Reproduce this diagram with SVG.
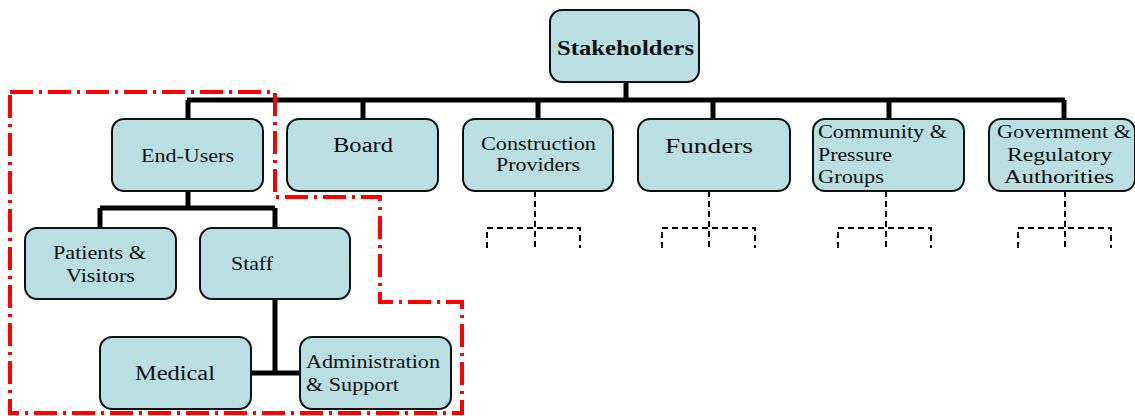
<svg xmlns="http://www.w3.org/2000/svg" width="1135" height="416" viewBox="0 0 1135 416">
<style>
.box{fill:#badfe2;stroke:#111;stroke-width:2}
.t{font-family:'Liberation Serif','Times New Roman',serif;font-size:18px;fill:#111}
.big{font-size:20px}
.b{font-weight:bold;font-size:22px}
.c{fill:none;stroke:#000;stroke-width:5}
.d{fill:none;stroke:#000;stroke-width:2;stroke-dasharray:6 4}
.r{fill:none;stroke:#f00;stroke-width:4;stroke-dasharray:23 6 3 6}
</style>
<rect width="1135" height="416" fill="#fff"/>
<g id="connectors">
<path class="c" d="M626 82V100M187 100H1065M188 100V120M363 100V120M538 100V120M713 100V120M889 100V120M1064 100V120"/>
<path class="c" d="M188 190V208M100 208H275M100 208V230M275 208V230M275 298V373M250 373H302"/>
<path class="d" d="M535 191V248M487 248V228H580V248"/>
<path class="d" d="M709 191V248M662 248V228H755V248"/>
<path class="d" d="M886 191V248M838 248V228H931V248"/>
<path class="d" d="M1065 191V248M1018 248V228H1111V248"/>
</g>
<path class="r" d="M10 92H275V197H380V302H462V413H10Z"/>
<g id="stakeholders"><rect class="box" x="550" y="10" width="149" height="72" rx="12"/><text class="t b" x="557" y="55" textLength="137" lengthAdjust="spacingAndGlyphs">Stakeholders</text></g>
<g id="end-users"><rect class="box" x="112" y="119" width="151" height="72" rx="12"/><text class="t" x="141" y="162" textLength="93" lengthAdjust="spacingAndGlyphs">End-Users</text></g>
<g id="board"><rect class="box" x="287" y="119" width="151" height="72" rx="12"/><text class="t big" x="333" y="152" textLength="60" lengthAdjust="spacingAndGlyphs">Board</text></g>
<g id="construction"><rect class="box" x="463" y="119" width="150" height="72" rx="12"/><text class="t" x="481" y="150" textLength="115" lengthAdjust="spacingAndGlyphs">Construction</text><text class="t" x="496" y="171" textLength="84" lengthAdjust="spacingAndGlyphs">Providers</text></g>
<g id="funders"><rect class="box" x="638" y="119" width="152" height="72" rx="12"/><text class="t big" x="665" y="153" textLength="88" lengthAdjust="spacingAndGlyphs">Funders</text></g>
<g id="community"><rect class="box" x="813" y="119" width="151" height="72" rx="12"/><text class="t" x="818" y="138" textLength="129" lengthAdjust="spacingAndGlyphs">Community &amp;</text><text class="t" x="818" y="161" textLength="74" lengthAdjust="spacingAndGlyphs">Pressure</text><text class="t" x="818" y="183" textLength="66" lengthAdjust="spacingAndGlyphs">Groups</text></g>
<g id="government"><rect class="box" x="989" y="119" width="146" height="72" rx="12"/><text class="t" x="997" y="138" textLength="134" lengthAdjust="spacingAndGlyphs">Government &amp;</text><text class="t" x="1007" y="161" textLength="105" lengthAdjust="spacingAndGlyphs">Regulatory</text><text class="t" x="1004" y="183" textLength="110" lengthAdjust="spacingAndGlyphs">Authorities</text></g>
<g id="patients"><rect class="box" x="25" y="228" width="151" height="71" rx="12"/><text class="t" x="53" y="259" textLength="93" lengthAdjust="spacingAndGlyphs">Patients &amp;</text><text class="t" x="66" y="282" textLength="69" lengthAdjust="spacingAndGlyphs">Visitors</text></g>
<g id="staff"><rect class="box" x="200" y="228" width="150" height="71" rx="12"/><text class="t" x="231" y="270" textLength="42" lengthAdjust="spacingAndGlyphs">Staff</text></g>
<g id="medical"><rect class="box" x="100" y="337" width="151" height="72" rx="12"/><text class="t big" x="135" y="380" textLength="80" lengthAdjust="spacingAndGlyphs">Medical</text></g>
<g id="admin"><rect class="box" x="300" y="337" width="151" height="72" rx="12"/><text class="t" x="306" y="368" textLength="134" lengthAdjust="spacingAndGlyphs">Administration</text><text class="t" x="306" y="391" textLength="93" lengthAdjust="spacingAndGlyphs">&amp; Support</text></g>
</svg>
